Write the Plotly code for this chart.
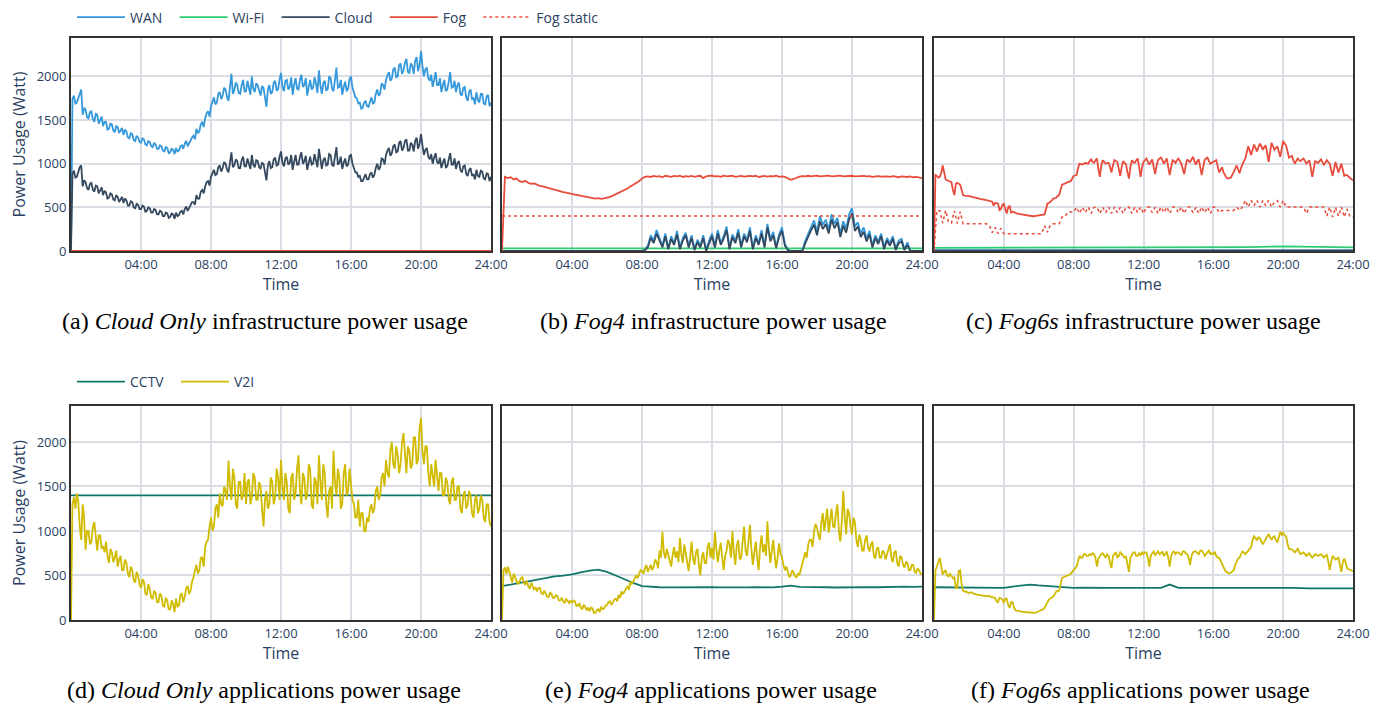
import plotly.graph_objects as go

# ---------------- data ----------------
TICK_VALS = [4, 8, 12, 16, 20, 24]
TICK_TEXT = ["04:00", "08:00", "12:00", "16:00", "20:00", "24:00"]
Y_TICKS = [0, 500, 1000, 1500, 2000]

# sample times in hours
T5 = [m / 60 for m in range(0, 1441, 5)]     # every 5 minutes (289 samples)
T10 = [m / 60 for m in range(0, 1441, 10)]   # every 10 minutes (145 samples)
T30 = [m / 60 for m in range(0, 1441, 30)]   # every 30 minutes (49 samples)
T_SPAN = [0, 24]

# (a) Cloud Only infrastructure  (5-minute samples, one row per hour)
A_WAN = [
    0, 1740, 1780, 1690, 1700, 1760, 1820, 1850, 1560, 1640, 1620, 1530,
    1520, 1590, 1600, 1510, 1480, 1570, 1560, 1460, 1500, 1540, 1430, 1480,
    1480, 1390, 1400, 1460, 1450, 1380, 1360, 1430, 1420, 1350, 1380, 1410,
    1330, 1390, 1370, 1300, 1290, 1350, 1340, 1270, 1260, 1320, 1300, 1250,
    1240, 1290, 1280, 1220, 1210, 1260, 1250, 1200, 1190, 1240, 1220, 1170,
    1170, 1210, 1200, 1150, 1140, 1190, 1180, 1120, 1130, 1170, 1160, 1110,
    1180, 1140, 1150, 1200, 1210, 1170, 1230, 1260, 1200, 1240, 1260, 1300,
    1320, 1280, 1400, 1350, 1370, 1450, 1480, 1420, 1520, 1580, 1600, 1540,
    1660, 1720, 1760, 1680, 1700, 1800, 1820, 1740, 1780, 1870, 1850, 1760,
    1720, 1880, 2030, 1800, 1840, 1930, 1900, 1810, 1800, 1900, 1960, 1830,
    1830, 1950, 1880, 1790, 2000, 1860, 1820, 1920, 1900, 1830, 1780, 1890,
    1870, 1760, 1650, 1850, 1900, 1800, 1820, 1930, 1950, 1840, 1850, 1960,
    2040, 1880, 1830, 1950, 1960, 1850, 1880, 1990, 1790, 1900, 1980, 1860,
    1850, 1960, 2020, 1880, 1900, 1980, 1780, 1880, 1960, 1850, 1870, 1990,
    1920, 1810, 2070, 1900, 1800, 1920, 1950, 1840, 1850, 2000, 1980, 1860,
    1830, 1960, 2100, 1870, 1880, 1960, 1790, 1880, 1940, 1830, 1860, 1970,
    2000, 1870, 1820, 1760, 1750, 1690, 1700, 1630, 1640, 1700, 1720, 1660,
    1650, 1720, 1760, 1690, 1700, 1800, 1850, 1780, 1800, 1920, 1900, 1850,
    1960, 2010, 2050, 1950, 1980, 2080, 2100, 1990, 2000, 2130, 2150, 2030,
    2070, 2160, 2200, 2050, 2040, 2150, 2120, 2030, 2180, 2220, 2060, 2130,
    2290, 2120, 2000, 2080, 2100, 1980, 1950, 2020, 1880, 1960, 2050, 1900,
    1900, 1980, 1820, 1900, 1960, 1830, 1850, 1940, 2050, 1870, 1880, 1950,
    1820, 1900, 1930, 1800, 1780, 1870, 1880, 1760, 1720, 1820, 1850, 1740,
    1750, 1680, 1820, 1730, 1700, 1800, 1800, 1690, 1680, 1770, 1790, 1660,
    1700,
]
A_CLOUD = [
    0, 880, 920, 840, 850, 900, 960, 980, 740, 810, 790, 720,
    700, 770, 780, 700, 680, 750, 740, 660, 690, 730, 640, 690,
    670, 600, 610, 660, 650, 590, 580, 640, 620, 560, 590, 620,
    550, 600, 580, 520, 520, 570, 560, 500, 490, 540, 530, 480,
    480, 520, 510, 450, 460, 500, 490, 440, 440, 480, 470, 420,
    420, 460, 450, 400, 400, 440, 430, 380, 390, 430, 420, 370,
    440, 400, 410, 450, 460, 420, 480, 510, 460, 500, 520, 560,
    560, 530, 640, 600, 600, 680, 700, 660, 740, 790, 800, 750,
    850, 900, 930, 870, 880, 960, 980, 910, 950, 1020, 1000, 930,
    900, 1010, 1130, 960, 980, 1050, 1030, 950, 950, 1040, 1080, 970,
    970, 1060, 1010, 940, 1100, 990, 960, 1040, 1030, 960, 940, 1010,
    1000, 900, 810, 980, 1030, 950, 960, 1050, 1070, 980, 990, 1080,
    1140, 1010, 970, 1060, 1080, 990, 1010, 1100, 930, 1020, 1100, 990,
    990, 1080, 1130, 1000, 1030, 1090, 930, 1010, 1080, 990, 1000, 1110,
    1050, 960, 1170, 1020, 940, 1040, 1070, 980, 990, 1110, 1100, 990,
    970, 1080, 1190, 990, 1010, 1080, 940, 1010, 1060, 970, 990, 1090,
    1100, 1000, 950, 900, 900, 850, 860, 800, 800, 850, 880, 820,
    820, 880, 900, 840, 870, 950, 1000, 930, 960, 1060, 1050, 990,
    1100, 1150, 1180, 1090, 1120, 1200, 1220, 1130, 1140, 1240, 1260, 1150,
    1180, 1260, 1280, 1150, 1150, 1240, 1220, 1140, 1260, 1300, 1170, 1230,
    1340, 1210, 1100, 1160, 1180, 1080, 1050, 1110, 1000, 1070, 1120, 1020,
    1000, 1070, 950, 1010, 1060, 960, 970, 1050, 1120, 990, 990, 1060,
    940, 1010, 1030, 930, 900, 970, 980, 880, 860, 930, 950, 860,
    880, 820, 930, 860, 850, 920, 910, 830, 820, 890, 880, 800,
    850,
]
A_WIFI = [0, 0]
A_FOG = [0, 0]

# (b) Fog4 infrastructure  (10-minute samples)
B_FOG = [
    0, 850, 835, 845, 820, 830,
    800, 790, 805, 780, 770, 775,
    760, 745, 740, 730, 720, 715,
    700, 690, 685, 675, 670, 660,
    655, 645, 640, 630, 625, 620,
    612, 608, 600, 605, 598, 602,
    610, 620, 635, 650, 665, 680,
    700, 715, 740, 760, 780, 800,
    830, 850, 855, 848, 860, 852,
    858, 845, 862, 855, 850, 860,
    855, 862, 848, 858, 852, 860,
    850, 858, 862, 835, 856, 860,
    862, 855, 858, 850, 863, 856,
    858, 862, 850, 857, 860, 852,
    856, 860, 854, 862, 848, 858,
    860, 852, 858, 855, 862, 850,
    855, 848, 830, 815, 825, 842,
    852, 858, 855, 862, 856, 860,
    862, 855, 860, 858, 864, 856,
    860, 858, 863, 855, 860, 857,
    862, 856, 858, 852, 860, 855,
    857, 850, 855, 858, 852, 856,
    855, 850, 858, 852, 845, 855,
    852, 848, 855, 845, 850, 840,
    835,
]
B_FOG_STATIC = [400, 400]
B_WIFI = [30, 30]
B_WAN = [
    0, 0, 0, 0, 0, 0,
    0, 0, 0, 0, 0, 0,
    0, 0, 0, 0, 0, 0,
    0, 0, 0, 0, 0, 0,
    0, 0, 0, 0, 0, 0,
    0, 0, 0, 0, 0, 0,
    0, 0, 0, 0, 0, 0,
    0, 0, 0, 0, 0, 0,
    0, 20, 60, 180, 120, 240,
    140, 60, 200, 30, 170, 90,
    230, 40, 150, 210, 60, 180,
    20, 130, 60, 180, 10, 120,
    200, 60, 240, 90, 170, 280,
    40, 190, 110, 250, 60, 200,
    130, 270, 30, 180, 90, 240,
    60, 310, 140, 220, 50, 190,
    270, 80, 20, 0, 0, 0,
    0, 10, 120, 200, 280, 350,
    220, 400, 300, 360, 250, 420,
    310, 380, 200, 340, 260, 420,
    490, 280, 330, 200, 270, 140,
    230, 60, 180, 110, 200, 40,
    150, 90, 170, 30, 120, 140,
    20, 100, 0, 0, 0, 0,
    0,
]
B_CLOUD = [
    0, 0, 0, 0, 0, 0,
    0, 0, 0, 0, 0, 0,
    0, 0, 0, 0, 0, 0,
    0, 0, 0, 0, 0, 0,
    0, 0, 0, 0, 0, 0,
    0, 0, 0, 0, 0, 0,
    0, 0, 0, 0, 0, 0,
    0, 0, 0, 0, 0, 0,
    0, 10, 40, 150, 90, 200,
    110, 40, 170, 20, 140, 70,
    190, 20, 120, 180, 40, 150,
    10, 100, 40, 150, 0, 90,
    170, 40, 200, 70, 140, 240,
    20, 160, 90, 210, 40, 170,
    100, 230, 20, 150, 70, 200,
    40, 270, 110, 180, 30, 160,
    230, 60, 10, 0, 0, 0,
    0, 0, 90, 170, 240, 300,
    180, 340, 250, 310, 200, 360,
    260, 330, 160, 290, 210, 360,
    430, 230, 280, 160, 220, 110,
    190, 40, 150, 80, 170, 20,
    120, 60, 140, 10, 90, 110,
    10, 70, 0, 0, 0, 0,
    0,
]

# (c) Fog6s infrastructure
C_FOG = [  # 5-minute samples
    0, 870, 860, 840, 850, 900, 980, 880, 820, 810, 800, 795,
    790, 700, 640, 770, 780, 770, 760, 700, 640, 635, 630, 630,
    628, 625, 620, 618, 615, 608, 600, 598, 595, 592, 590, 585,
    580, 575, 570, 568, 565, 520, 550, 548, 545, 470, 480, 530,
    540, 480, 430, 500, 520, 440, 450, 445, 435, 430, 425, 422,
    420, 415, 410, 408, 405, 402, 400, 399, 398, 400, 402, 404,
    405, 408, 410, 415, 420, 480, 545, 550, 560, 580, 600, 605,
    610, 630, 640, 700, 760, 765, 770, 780, 790, 795, 800, 830,
    860, 865, 870, 950, 1000, 995, 990, 1000, 1010, 1005, 1000, 1030,
    1050, 1020, 1010, 1040, 1060, 940, 850, 980, 1040, 1020, 1000, 1010,
    1010, 960, 900, 980, 1040, 1030, 1020, 940, 860, 960, 1030, 1010,
    990, 900, 830, 960, 1040, 1020, 1010, 1040, 1060, 960, 850, 960,
    1020, 1040, 1060, 1020, 990, 1020, 1050, 960, 880, 980, 1040, 1060,
    1070, 1040, 1000, 1030, 1060, 960, 870, 960, 1040, 1030, 1010, 1040,
    1060, 1030, 1000, 940, 880, 980, 1050, 1030, 1020, 1050, 1080, 1030,
    990, 1030, 1050, 960, 870, 960, 1040, 1060, 1070, 1030, 1000, 1010,
    1020, 1030, 1040, 970, 900, 930, 960, 900, 860, 840, 830, 835,
    840, 870, 900, 940, 980, 930, 890, 950, 1000, 1030, 1060, 1130,
    1200, 1150, 1100, 1160, 1220, 1180, 1140, 1190, 1230, 1200, 1160, 1190,
    1210, 1120, 1020, 1130, 1240, 1200, 1160, 1180, 1200, 1140, 1080, 1170,
    1260, 1230, 1210, 1140, 1070, 1080, 1090, 1040, 1000, 1030, 1060, 1040,
    1030, 1050, 1060, 1030, 1000, 1020, 1040, 950, 850, 940, 1030, 1020,
    1010, 1030, 1050, 1020, 990, 1010, 1040, 1020, 1000, 930, 860, 940,
    1020, 960, 900, 950, 1000, 930, 860, 870, 870, 850, 840, 825,
    810,
]
C_FOG_STATIC = [  # 10-minute samples
    0, 465, 460, 320, 465, 330,
    320, 460, 315, 450, 312, 312,
    312, 312, 312, 312, 312, 312,
    312, 300, 210, 270, 200, 260,
    198, 198, 198, 198, 198, 198,
    198, 198, 198, 198, 198, 198,
    198, 198, 290, 215, 300, 312,
    312, 312, 389, 389, 446, 446,
    446, 500, 430, 500, 440, 503,
    430, 500, 503, 430, 500, 440,
    503, 430, 503, 440, 500, 430,
    503, 503, 430, 500, 440, 503,
    430, 503, 503, 440, 500, 430,
    503, 440, 503, 430, 503, 500,
    440, 503, 430, 503, 503, 440,
    500, 430, 503, 440, 503, 430,
    503, 500, 440, 465, 465, 465,
    465, 465, 503, 465, 503, 580,
    503, 579, 520, 579, 503, 579,
    520, 579, 503, 560, 579, 503,
    579, 503, 503, 503, 503, 503,
    503, 503, 430, 503, 503, 503,
    503, 503, 503, 400, 503, 390,
    500, 400, 503, 390, 480, 390,
    390,
]
C_WIFI_T = [0, 6, 12, 18, 20, 24]
C_WIFI = [35, 36, 40, 45, 52, 42]
C_WAN = [10, 10]
C_CLOUD = [3, 3]

# (d) Cloud Only applications  (5-minute samples)
D_CCTV = [1400, 1400]
D_V2I = [
    0, 1300, 1380, 1250, 1420, 1330, 1050, 900, 1300, 1150, 790, 1000,
    1000, 850, 880, 1050, 1100, 900, 780, 950, 950, 800, 830, 760,
    880, 720, 640, 800, 760, 650, 700, 780, 600, 680, 720, 560,
    560, 680, 640, 520, 480, 600, 560, 450, 420, 540, 500, 400,
    360, 460, 430, 300, 280, 400, 350, 250, 240, 330, 300, 200,
    200, 300, 270, 160, 150, 250, 220, 120, 120, 220, 180, 90,
    240, 150, 160, 280, 300, 200, 260, 360, 380, 290, 330, 430,
    480, 560, 620, 520, 560, 700, 700, 600, 820, 880, 900, 1050,
    1150, 1000, 1050, 1250, 1300, 1150, 1420, 1300, 1280, 1500, 1450, 1350,
    1790, 1500, 1350, 1700, 1600, 1300, 1250, 1550, 1550, 1350, 1400, 1650,
    1300, 1550, 1580, 1300, 1380, 1650, 1600, 1350, 1350, 1550, 1500, 1250,
    1050, 1350, 1450, 1250, 1300, 1600, 1550, 1300, 1380, 1700, 1600, 1350,
    1800, 1500, 1350, 1650, 1550, 1250, 1200, 1600, 1650, 1350, 1420, 1700,
    1850, 1450, 1300, 1650, 1600, 1350, 1400, 1750, 1700, 1300, 1250, 1600,
    1550, 1300, 1850, 1550, 1350, 1750, 1650, 1300, 1150, 1450, 1500, 1250,
    1900, 1550, 1400, 1700, 1600, 1250, 1300, 1650, 1750, 1400, 1450, 1700,
    1550, 1350, 1300, 1150, 1150, 1350, 1050, 1200, 1200, 1000, 1000, 1150,
    1100, 1250, 1300, 1200, 1250, 1450, 1500, 1350, 1400, 1600, 1650, 1500,
    1800, 1650, 1600, 1900, 2000, 1750, 1700, 1950, 1850, 1650, 1750, 2000,
    2100, 1800, 1650, 1950, 1900, 1700, 1750, 2050, 2050, 1750, 1800, 2150,
    2270, 1900, 1750, 1950, 1950, 1650, 1500, 1750, 1650, 1500, 1800, 1600,
    1450, 1650, 1650, 1400, 1400, 1600, 1550, 1350, 1300, 1550, 1600, 1350,
    1350, 1500, 1500, 1250, 1200, 1400, 1450, 1250, 1300, 1450, 1400, 1200,
    1150, 1350, 1400, 1200, 1250, 1400, 1350, 1150, 1100, 1300, 1300, 1100,
    1050,
]

# (e) Fog4 applications
E_CCTV = [  # 30-minute samples
    380, 395, 416, 435, 454, 472, 490, 498, 512, 535,
    555, 566, 540, 500, 454, 416, 380, 370, 368, 366,
    368, 365, 368, 366, 368, 367, 365, 368, 366, 368,
    365, 367, 375, 386, 372, 368, 366, 368, 365, 368,
    367, 368, 370, 368, 372, 370, 374, 372, 375,
]
E_V2I = [  # 5-minute samples
    0, 560, 590, 520, 600, 540, 470, 420, 520, 480, 450, 400,
    430, 470, 480, 410, 400, 440, 380, 350, 420, 380, 340, 370,
    320, 360, 360, 300, 290, 330, 300, 260, 260, 310, 290, 250,
    250, 280, 270, 220, 220, 250, 210, 190, 240, 210, 190, 220,
    190, 220, 210, 160, 160, 190, 140, 120, 170, 150, 110, 140,
    100, 140, 130, 80, 80, 110, 120, 90, 150, 120, 130, 160,
    170, 200, 210, 170, 200, 230, 240, 210, 280, 250, 320, 290,
    320, 360, 380, 340, 430, 400, 440, 480, 500, 470, 520, 560,
    550, 520, 580, 620, 540, 590, 620, 560, 600, 680, 650, 580,
    780, 700, 990, 760, 690, 800, 720, 640, 600, 730, 820, 700,
    770, 650, 920, 740, 640, 850, 740, 620, 550, 700, 880, 690,
    620, 760, 800, 620, 500, 700, 760, 640, 640, 820, 870, 700,
    810, 680, 990, 800, 650, 780, 870, 700, 560, 720, 780, 900,
    850, 700, 1000, 760, 620, 840, 900, 680, 700, 880, 1050, 780,
    720, 880, 1070, 800, 620, 760, 880, 700, 560, 820, 950, 760,
    850, 720, 1110, 820, 640, 780, 900, 720, 580, 700, 860, 740,
    700, 620, 560, 600, 520, 480, 500, 560, 530, 490, 480, 520,
    510, 580, 620, 700, 760, 700, 850, 900, 900, 820, 1000, 1080,
    1040, 950, 900, 1100, 1200, 1000, 1110, 1250, 980, 1100, 1250, 1050,
    1040, 1200, 1300, 1000, 880, 1100, 1450, 1150, 960, 1250, 1200, 1050,
    960, 1150, 1100, 900, 820, 960, 900, 780, 780, 900, 950, 820,
    770, 850, 880, 720, 690, 800, 820, 700, 700, 780, 760, 680,
    740, 820, 850, 700, 650, 760, 780, 640, 600, 720, 700, 620,
    590, 650, 640, 560, 560, 620, 620, 540, 530, 580, 560, 520,
    510,
]

# (f) Fog6s applications
F_CCTV = [  # 30-minute samples
    368, 368, 370, 368, 368, 368, 368, 366, 362, 376,
    385, 398, 388, 380, 372, 368, 362, 364, 360, 362,
    360, 362, 361, 360, 362, 360, 362, 398, 360, 362,
    361, 360, 362, 361, 360, 362, 361, 360, 362, 361,
    360, 362, 355, 355, 356, 355, 355, 356, 355,
]
F_V2I = [  # 5-minute samples
    0, 560, 600, 650, 700, 600, 510, 540, 560, 500, 490, 520,
    490, 470, 480, 360, 360, 550, 560, 400, 330, 320, 320, 310,
    300, 310, 310, 295, 290, 285, 285, 280, 280, 275, 270, 265,
    265, 270, 270, 260, 255, 250, 250, 210, 200, 250, 245, 230,
    190, 240, 240, 170, 135, 200, 200, 140, 110, 105, 100, 98,
    95, 92, 90, 88, 85, 82, 80, 79, 78, 80, 82, 88,
    97, 100, 110, 120, 135, 160, 200, 230, 247, 255, 260, 290,
    320, 325, 330, 400, 470, 480, 490, 495, 500, 510, 520, 540,
    566, 580, 600, 680, 720, 700, 700, 740, 740, 720, 720, 740,
    730, 750, 740, 700, 600, 690, 720, 740, 750, 720, 700, 740,
    720, 640, 585, 720, 740, 760, 700, 720, 760, 740, 730, 700,
    710, 640, 540, 700, 740, 760, 760, 720, 720, 750, 730, 760,
    740, 760, 760, 700, 600, 720, 750, 770, 730, 750, 770, 740,
    750, 770, 720, 740, 770, 700, 600, 720, 760, 770, 740, 760,
    760, 740, 730, 770, 770, 750, 740, 700, 620, 720, 760, 770,
    770, 750, 740, 780, 780, 760, 720, 740, 760, 780, 740, 750,
    740, 760, 720, 700, 700, 660, 620, 580, 560, 540, 530, 525,
    530, 545, 560, 620, 660, 690, 700, 740, 770, 760, 740, 760,
    780, 800, 820, 900, 940, 920, 900, 930, 920, 880, 850, 880,
    920, 940, 960, 920, 900, 930, 940, 900, 870, 930, 990, 960,
    980, 950, 940, 860, 800, 800, 790, 780, 760, 780, 800, 760,
    740, 750, 760, 740, 720, 740, 750, 720, 700, 720, 740, 730,
    720, 730, 740, 720, 700, 720, 730, 660, 560, 650, 720, 700,
    680, 690, 700, 620, 540, 650, 690, 640, 580, 570, 560, 550,
    547,
]

for _s in (A_WAN, A_CLOUD, C_FOG, D_V2I, E_V2I, F_V2I):
    assert len(_s) == len(T5), len(_s)
for _s in (B_FOG, B_WAN, B_CLOUD, C_FOG_STATIC):
    assert len(_s) == len(T10), len(_s)
for _s in (E_CCTV, F_CCTV):
    assert len(_s) == len(T30), len(_s)

CAPTIONS = [
    "(a) <i>Cloud Only</i> infrastructure power usage",
    "(b) <i>Fog4</i> infrastructure power usage",
    "(c) <i>Fog6s</i> infrastructure power usage",
    "(d) <i>Cloud Only</i> applications power usage",
    "(e) <i>Fog4</i> applications power usage",
    "(f) <i>Fog6s</i> applications power usage",
]

# ---------------- styling ----------------
PAGE_OFF = 8                      # default body margin of the html page
W, H = 1390 - PAGE_OFF, 705 - PAGE_OFF
COL = {
    "WAN": "#3498db",
    "Wi-Fi": "#2ecc71",
    "Cloud": "#34495e",
    "Fog": "#e74c3c",
    "Fog static": "#e74c3c",
    "CCTV": "#13766b",
    "V2I": "#d0bb00",
}
FONT = "Open Sans, Noto Sans, sans-serif"
TXT = "#2a3f5f"
GRID = "#dadde4"
NB = "\u00a0\u00a0"               # trailing pad between legend entries


def fx(p):
    return (p - PAGE_OFF) / W


def fy(p):
    return 1 - (p - PAGE_OFF) / H


# panel boxes in page pixels: (left, right, top, bottom)
BOX = [
    (71, 491, 38, 251), (502, 922, 38, 251), (934, 1353, 38, 251),
    (71, 491, 406, 620), (502, 922, 406, 620), (934, 1353, 406, 620),
]
Y_MAX = [2440, 2440, 2440, 2404, 2404, 2404]
CAP_POS = [(265, 321), (713, 321), (1143, 321), (264, 690), (711, 690), (1140, 690)]

fig = go.Figure()
seen = set()


def add(p, x, y, name, dash=None, width=1.8):
    sfx = "" if p == 0 else str(p + 1)
    show = name not in seen
    seen.add(name)
    fig.add_trace(go.Scatter(
        x=x, y=y, mode="lines", name=name + NB,
        line=dict(color=COL[name], width=width, dash=dash),
        xaxis="x" + sfx, yaxis="y" + sfx,
        showlegend=show,
        legend="legend2" if name in ("CCTV", "V2I") else "legend",
        hoverinfo="skip",
    ))


# infrastructure panels
add(0, T5, A_WAN, "WAN")
add(0, T_SPAN, A_WIFI, "Wi-Fi")
add(0, T5, A_CLOUD, "Cloud")
add(0, T_SPAN, A_FOG, "Fog")
add(1, T10, B_WAN, "WAN")
add(1, T_SPAN, B_WIFI, "Wi-Fi")
add(1, T10, B_CLOUD, "Cloud")
add(1, T10, B_FOG, "Fog")
add(1, T_SPAN, B_FOG_STATIC, "Fog static", dash="dot", width=1.5)
add(2, T_SPAN, C_WAN, "WAN")
add(2, C_WIFI_T, C_WIFI, "Wi-Fi")
add(2, T_SPAN, C_CLOUD, "Cloud")
add(2, T5, C_FOG, "Fog")
add(2, T10, C_FOG_STATIC, "Fog static", dash="dot", width=1.5)
# applications panels
add(3, T_SPAN, D_CCTV, "CCTV")
add(3, T5, D_V2I, "V2I")
add(4, T30, E_CCTV, "CCTV")
add(4, T5, E_V2I, "V2I")
add(5, T30, F_CCTV, "CCTV")
add(5, T5, F_V2I, "V2I")

leg = dict(orientation="h", x=fx(72), xanchor="left", yanchor="middle",
           font=dict(size=14, color=TXT), itemwidth=48, bgcolor="rgba(0,0,0,0)")
layout = dict(
    width=W, height=H,
    margin=dict(l=0, r=0, t=0, b=0, autoexpand=False),
    paper_bgcolor="white", plot_bgcolor="white",
    font=dict(family=FONT, color=TXT, size=13),
    showlegend=True,
    legend=dict(leg, y=fy(17.5)),
    legend2=dict(leg, y=fy(382)),
    annotations=[],
)

for i, (l, r, t, b) in enumerate(BOX):
    sfx = "" if i == 0 else str(i + 1)
    layout["xaxis" + sfx] = dict(
        domain=[fx(l), fx(r)], range=[0, 24], anchor="y" + sfx,
        tickvals=TICK_VALS, ticktext=TICK_TEXT, tickfont=dict(size=13),
        showgrid=True, gridcolor=GRID, gridwidth=2, zeroline=False,
        showline=True, linecolor="#333333", linewidth=2, mirror=True,
        title=dict(text="Time", font=dict(size=16), standoff=4), automargin=True,
    )
    layout["yaxis" + sfx] = dict(
        domain=[fy(b), fy(t)], range=[0, Y_MAX[i]], anchor="x" + sfx,
        tickvals=Y_TICKS, showticklabels=(i % 3 == 0), tickfont=dict(size=13),
        showgrid=True, gridcolor=GRID, gridwidth=2, zeroline=False,
        showline=True, linecolor="#333333", linewidth=2, mirror=True,
        title=dict(text="Power Usage (Watt)" if i % 3 == 0 else "", font=dict(size=16)),
        automargin=False,
    )

for (cx, cy), txt in zip(CAP_POS, CAPTIONS):
    layout["annotations"].append(dict(
        text=txt, x=fx(cx), y=fy(cy), xref="paper", yref="paper",
        xanchor="center", yanchor="middle", showarrow=False,
        font=dict(family="Liberation Serif, Times New Roman, serif", size=24, color="black"),
    ))

fig.update_layout(**layout)
fig.write_html("out.html")
